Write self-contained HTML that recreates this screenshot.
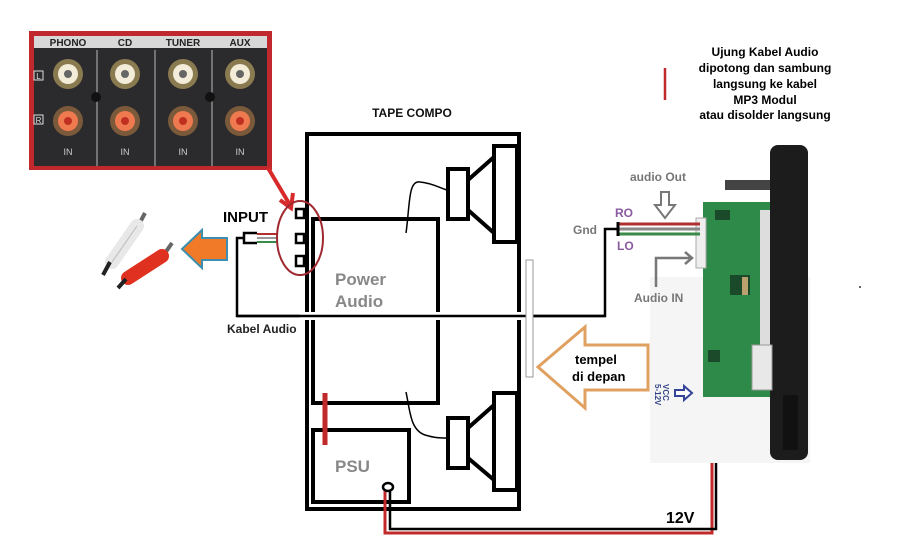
<!DOCTYPE html>
<html><head><meta charset="utf-8"><style>
html,body{margin:0;padding:0;background:#fff;}
svg{display:block;font-family:"Liberation Sans",sans-serif;}
</style></head><body>
<svg width="909" height="545" viewBox="0 0 909 545" xmlns="http://www.w3.org/2000/svg">
<rect width="909" height="545" fill="#fff"/>
<rect x="29" y="31" width="243" height="139" fill="#c0282e"/>
<rect x="34" y="36" width="233" height="130" fill="#2b2b2d"/>
<rect x="34" y="36" width="233" height="12" fill="#d8d8d8"/>
<g font-size="10" font-weight="bold" fill="#222" text-anchor="middle">
<text x="68" y="46">PHONO</text><text x="125" y="46">CD</text><text x="183" y="46">TUNER</text><text x="240" y="46">AUX</text></g>
<g stroke="#bbb" stroke-width="1"><line x1="97" y1="50" x2="97" y2="166"/><line x1="155" y1="50" x2="155" y2="166"/><line x1="212" y1="50" x2="212" y2="166"/></g>
<g>
<circle cx="68" cy="74" r="15" fill="#8a7a50"/><circle cx="68" cy="74" r="10" fill="#f2ecd8"/><circle cx="68" cy="74" r="4" fill="#666"/>
<circle cx="125" cy="74" r="15" fill="#8a7a50"/><circle cx="125" cy="74" r="10" fill="#f2ecd8"/><circle cx="125" cy="74" r="4" fill="#666"/>
<circle cx="183" cy="74" r="15" fill="#8a7a50"/><circle cx="183" cy="74" r="10" fill="#f2ecd8"/><circle cx="183" cy="74" r="4" fill="#666"/>
<circle cx="240" cy="74" r="15" fill="#8a7a50"/><circle cx="240" cy="74" r="10" fill="#f2ecd8"/><circle cx="240" cy="74" r="4" fill="#666"/>
<circle cx="68" cy="121" r="15" fill="#7a5a3a"/><circle cx="68" cy="121" r="10" fill="#f07a50"/><circle cx="68" cy="121" r="4" fill="#c03020"/>
<circle cx="125" cy="121" r="15" fill="#7a5a3a"/><circle cx="125" cy="121" r="10" fill="#f07a50"/><circle cx="125" cy="121" r="4" fill="#c03020"/>
<circle cx="183" cy="121" r="15" fill="#7a5a3a"/><circle cx="183" cy="121" r="10" fill="#f07a50"/><circle cx="183" cy="121" r="4" fill="#c03020"/>
<circle cx="240" cy="121" r="15" fill="#7a5a3a"/><circle cx="240" cy="121" r="10" fill="#f07a50"/><circle cx="240" cy="121" r="4" fill="#c03020"/>
<circle cx="96" cy="97" r="5" fill="#111"/><circle cx="210" cy="97" r="5" fill="#111"/>
</g>
<rect x="34" y="71" width="9" height="9" fill="none" stroke="#ddd"/><text x="38.5" y="79" font-size="8" fill="#ddd" text-anchor="middle">L</text>
<rect x="34" y="115" width="9" height="9" fill="none" stroke="#ddd"/><text x="38.5" y="123" font-size="8" fill="#ddd" text-anchor="middle">R</text>
<g font-size="9" fill="#ccc" text-anchor="middle"><text x="68" y="155">IN</text><text x="125" y="155">IN</text><text x="183" y="155">IN</text><text x="240" y="155">IN</text></g>
<path d="M268 168 L290 205" stroke="#d82a2a" stroke-width="4"/>
<path d="M280 200 L291 208 L293 193" stroke="#d82a2a" stroke-width="4" fill="none"/>
<path d="M145 213 L137 228" stroke="#666" stroke-width="4"/>
<path d="M137 226 L112 262" stroke="#e8e8e8" stroke-width="14" stroke-linecap="round"/>
<path d="M137 226 L112 262" stroke="#bbb" stroke-width="1" fill="none"/>
<path d="M110 262 L103 275" stroke="#222" stroke-width="4"/>
<path d="M172 243 L163 256" stroke="#666" stroke-width="4"/>
<path d="M162 256 L128 278" stroke="#e0301f" stroke-width="14" stroke-linecap="round"/>
<path d="M126 279 L118 288" stroke="#222" stroke-width="4"/>
<path d="M182 249 L202 230 L202 238 L227 238 L227 260 L202 260 L202 268 Z" fill="#f07a28" stroke="#3c8fb0" stroke-width="2"/>
<text x="223" y="222" font-size="15" font-weight="bold" fill="#000">INPUT</text>
<path d="M257 233 L244 233 L244 243 L257 243" stroke="#000" stroke-width="2.5" fill="none"/>
<line x1="257" y1="234" x2="277" y2="234" stroke="#b03030" stroke-width="2"/>
<line x1="257" y1="238" x2="277" y2="238" stroke="#999" stroke-width="2"/>
<line x1="257" y1="242" x2="277" y2="242" stroke="#3a8a4a" stroke-width="2"/>
<path d="M244 238 L237 238 L237 316 L605 316 L605 229 L618 229" stroke="#000" stroke-width="2.5" fill="none"/>
<text x="227" y="333" font-size="12" font-weight="bold" fill="#222">Kabel Audio</text>
<text x="412" y="117" font-size="12" font-weight="bold" fill="#111" text-anchor="middle">TAPE COMPO</text>
<rect x="307" y="134" width="212" height="375" fill="none" stroke="#000" stroke-width="4"/>
<rect x="313" y="219" width="125" height="184" fill="none" stroke="#000" stroke-width="4"/>
<rect x="300" y="312" width="230" height="8" fill="#fff"/>
<line x1="237" y1="316" x2="605" y2="316" stroke="#000" stroke-width="2.5"/>
<rect x="526" y="260" width="7" height="117" fill="#fff" stroke="#999" stroke-width="1"/>
<text x="335" y="285" font-size="17" font-weight="bold" fill="#888">Power</text>
<text x="335" y="307" font-size="17" font-weight="bold" fill="#888">Audio</text>
<g fill="#fff" stroke="#000" stroke-width="2.5"><rect x="296" y="209" width="8" height="9"/><rect x="296" y="234" width="8" height="9"/><rect x="296" y="256" width="8" height="10"/></g>
<ellipse cx="300" cy="238" rx="23" ry="37" fill="none" stroke="#a02830" stroke-width="2"/>
<g fill="none" stroke="#000" stroke-width="4">
<rect x="448" y="169" width="20" height="50"/><rect x="494" y="146" width="23" height="96"/>
<path d="M468 180 L494 157 M468 210 L494 233"/>
<rect x="448" y="418" width="20" height="50"/><rect x="494" y="393" width="23" height="97"/>
<path d="M468 428 L494 405 M468 458 L494 480"/>
<rect x="313" y="430" width="96" height="72"/>
</g>
<path d="M406 233 C410 205 408 180 420 182 C432 183 440 188 447 190" stroke="#000" stroke-width="1.5" fill="none"/>
<path d="M406 392 C410 410 410 430 425 435 C435 438 440 438 447 438" stroke="#000" stroke-width="1.5" fill="none"/>
<line x1="325" y1="393" x2="325" y2="445" stroke="#c02a2a" stroke-width="5"/>
<text x="335" y="472" font-size="17" font-weight="bold" fill="#888">PSU</text>
<path d="M385 487 L385 533 L712 533 L712 400" stroke="#c02a2a" stroke-width="3" fill="none"/>
<path d="M390 487 L390 529 L716 529 L716 400" stroke="#000" stroke-width="2.5" fill="none"/>
<ellipse cx="388" cy="487" rx="5" ry="4" fill="#fff" stroke="#000" stroke-width="2.5"/>
<ellipse cx="712" cy="397" rx="4" ry="5" fill="#fff" stroke="#000" stroke-width="2.5"/>
<text x="666" y="523" font-size="16" font-weight="bold" fill="#000">12V</text>
<path d="M538 367 L585 327 L585 345 L648 345 L648 390 L585 390 L585 408 Z" fill="#fff" stroke="#e0a060" stroke-width="3"/>
<text x="575" y="364" font-size="13" font-weight="bold" fill="#000">tempel</text>
<text x="572" y="381" font-size="13" font-weight="bold" fill="#000">di depan</text>
<rect x="650" y="277" width="160" height="186" fill="#f5f5f5"/>
<rect x="770" y="145" width="38" height="315" rx="8" fill="#1c1c1c"/>
<rect x="725" y="180" width="45" height="10" fill="#444"/>
<rect x="703" y="202" width="67" height="195" fill="#2e8a48"/>
<g fill="#1a4a2a"><rect x="715" y="210" width="15" height="10"/><rect x="730" y="275" width="20" height="20"/><rect x="708" y="350" width="12" height="12"/></g>
<rect x="742" y="277" width="6" height="18" fill="#bba070"/>
<rect x="760" y="210" width="10" height="140" fill="#ddd"/>
<rect x="752" y="345" width="20" height="45" fill="#e8e8e8" stroke="#999"/>
<rect x="696" y="218" width="10" height="50" fill="#eee" stroke="#aaa"/>
<rect x="783" y="395" width="15" height="55" fill="#111"/>
<line x1="618" y1="224" x2="700" y2="224" stroke="#b03030" stroke-width="3"/>
<line x1="618" y1="229" x2="700" y2="229" stroke="#888" stroke-width="3"/>
<line x1="618" y1="234" x2="700" y2="234" stroke="#3a8a4a" stroke-width="3"/>
<path d="M618 222 L618 236" stroke="#000" stroke-width="3"/>
<text x="573" y="234" font-size="12" font-weight="bold" fill="#777">Gnd</text>
<text x="615" y="217" font-size="12" font-weight="bold" fill="#8a5aa0">RO</text>
<text x="617" y="250" font-size="12" font-weight="bold" fill="#8a5aa0">LO</text>
<text x="630" y="181" font-size="12" font-weight="bold" fill="#777">audio Out</text>
<path d="M661 192 L669 192 L669 205 L675 205 L665 218 L655 205 L661 205 Z" fill="#fff" stroke="#777" stroke-width="2"/>
<path d="M656 287 L656 258 L692 258 M685 252 L692 258 L685 264" stroke="#777" stroke-width="2.5" fill="none"/>
<text x="634" y="302" font-size="12" font-weight="bold" fill="#777">Audio IN</text>
<line x1="665" y1="68" x2="665" y2="100" stroke="#c02a2a" stroke-width="2.5"/>
<g font-size="12" font-weight="bold" fill="#000" text-anchor="middle">
<text x="765" y="56">Ujung Kabel Audio</text><text x="765" y="72">dipotong dan sambung</text><text x="765" y="88">langsung ke kabel</text><text x="765" y="104">MP3 Modul</text><text x="765" y="119">atau disolder langsung</text></g>
<text transform="translate(663,384) rotate(90)" font-size="8" font-weight="bold" fill="#334488">VCC</text>
<text transform="translate(655,384) rotate(90)" font-size="8" font-weight="bold" fill="#334488">5-12V</text>
<path d="M675 390 L684 390 L684 386 L692 393 L684 400 L684 396 L675 396 Z" fill="#fff" stroke="#334499" stroke-width="2"/>
<rect x="859" y="286" width="2" height="2" fill="#666"/>
</svg>
</body></html>
